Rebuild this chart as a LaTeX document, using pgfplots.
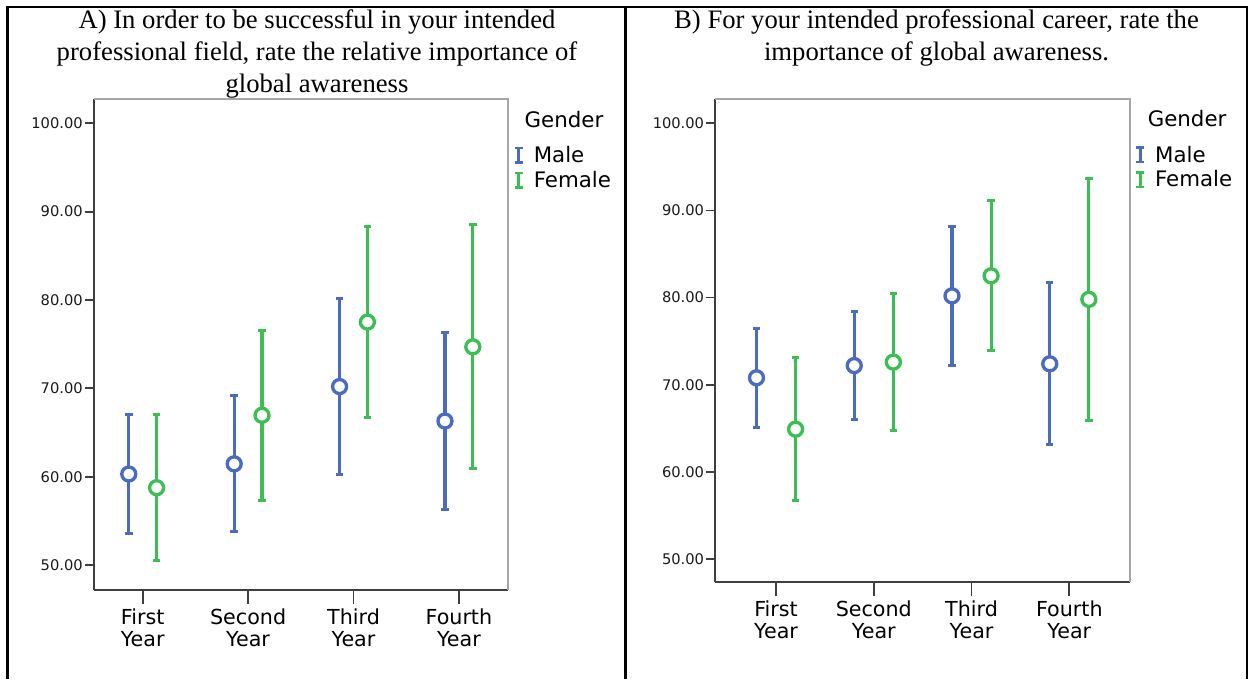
\documentclass[border=0pt]{standalone}
\usepackage{fontspec}
\setmainfont{Liberation Serif}
\newfontfamily\spss{DejaVu Sans}
\usepackage{pgfplots}
\pgfplotsset{compat=1.18}
\definecolor{spBlue}{HTML}{4A6BBE}
\definecolor{spGreen}{HTML}{3DBE55}
\definecolor{axInk}{HTML}{3F3F3F}
\definecolor{frameGray}{HTML}{A6A6A6}

\pgfplotsset{
  spssbase/.style={
    scale only axis, clip=false,
    axis lines=left,
    axis line style={-, axInk, line width=1.5pt},
    tick align=outside,
    tick style={axInk, line width=1.3pt},
    major tick length=6.75pt,
    xtick={0,1,2,3},
    xticklabels={{First\\Year},{Second\\Year},{Third\\Year},{Fourth\\Year}},
    xticklabel style={align=center, font=\spss\fontsize{15.5}{16.5}\selectfont, text=black, inner sep=1pt, yshift=-6pt},
    xtick style={postaction={draw, transform canvas={yshift=-3.75pt}}},
    ytick={50,60,70,80,90,100},
    yticklabel style={font=\spss\fontsize{11}{13}\selectfont, text=black!90, inner sep=1.5pt},
    /pgf/number format/fixed, /pgf/number format/fixed zerofill,
    /pgf/number format/precision=2, /pgf/number format/assume math mode=true,
    legend style={anchor=north west, draw=none, fill=none, inner sep=0pt,
      font=\spss\fontsize{16}{18}\selectfont, row sep=1pt},
    legend cell align=left,
  },
  ibar/.style={
    only marks, mark=*, mark size=5.25pt, color=#1,
    mark options={fill=white, draw=#1, line width=2.5pt},
    legend image code/.code={
      \path (-2.8pt,0pt) (9pt,0pt);
      \draw[#1, line width=2.2pt] (0pt,-5.5pt) -- (0pt,5.5pt);
      \draw[#1, line width=1.8pt] (-2.8pt,-5.5pt) -- (2.8pt,-5.5pt) (-2.8pt,5.5pt) -- (2.8pt,5.5pt);},
    error bars/y dir=both, error bars/y explicit,
    error bars/error bar style={#1, line width=2.4pt},
    error bars/error mark options={#1, line width=2.2pt, mark size=2.8pt, rotate=90},
  },
}

\begin{document}
\begin{tikzpicture}
\useasboundingbox (0,0) rectangle (937.5pt,-509.25pt);

% frame of the two-cell table
\draw[black, line width=1.9pt] (5.5pt,-509.25pt) -- (5.5pt,-5.25pt) -- (935.25pt,-5.25pt) -- (935.25pt,-509.25pt);
\draw[black, line width=1.9pt] (469.3pt,-5.25pt) -- (469.3pt,-509.25pt);

% titles
\node[anchor=base, font=\fontsize{20}{24}\selectfont] at (237.75pt,-21.5pt) {A) In order to be successful in your intended};
\node[anchor=base, font=\fontsize{20}{24}\selectfont] at (237.75pt,-45.5pt) {professional field, rate the relative importance of};
\node[anchor=base, font=\fontsize{20}{24}\selectfont] at (237.75pt,-69.5pt) {global awareness};
\node[anchor=base, font=\fontsize{20}{24}\selectfont] at (702.4pt,-21.5pt) {B) For your intended professional career, rate the};
\node[anchor=base, font=\fontsize{20}{24}\selectfont] at (702.4pt,-45.5pt) {importance of global awareness.};

% panel A
\begin{axis}[spssbase,
  at={(70.5pt,-442.5pt)}, anchor=south west,
  width=310.5pt, height=368.25pt,
  xmin=-0.462, xmax=3.466, ymin=47.17, ymax=102.75,
  legend style={at={(1.0137,0.910)}},
]
\addplot[ibar=spBlue] coordinates {
  (-0.132,60.30) +- (0,6.70)
  (0.868,61.45) +- (0,7.70)
  (1.868,70.20) +- (0,10.00)
  (2.868,66.30) +- (0,10.00)};
\addlegendentry{Male}
\addplot[ibar=spGreen] coordinates {
  (0.132,58.75) +- (0,8.27)
  (1.132,66.95) +- (0,9.60)
  (2.132,77.50) +- (0,10.80)
  (3.132,74.70) +- (0,13.80)};
\addlegendentry{Female}
\draw[frameGray, line width=1pt] (rel axis cs:0,1) -- (rel axis cs:1,1) -- (rel axis cs:1,0);
\end{axis}
\node[anchor=base west, font=\spss\fontsize{16}{18}\selectfont] at (390pt,-95.6pt) {Gender};

% panel B
\begin{axis}[spssbase,
  at={(536.5pt,-436.7pt)}, anchor=south west,
  width=311pt, height=362.5pt,
  xmin=-0.621, xmax=3.621, ymin=47.33, ymax=102.8,
  legend style={at={(1.012,0.909)}},
]
\addplot[ibar=spBlue] coordinates {
  (-0.2,70.80) +- (0,5.70)
  (0.8,72.20) +- (0,6.20)
  (1.8,80.20) +- (0,8.00)
  (2.8,72.40) +- (0,9.30)};
\addlegendentry{Male}
\addplot[ibar=spGreen] coordinates {
  (0.2,64.90) +- (0,8.20)
  (1.2,72.60) +- (0,7.90)
  (2.2,82.50) +- (0,8.60)
  (3.2,79.80) +- (0,13.90)};
\addlegendentry{Female}
\draw[frameGray, line width=1pt] (rel axis cs:0,1) -- (rel axis cs:1,1) -- (rel axis cs:1,0);
\end{axis}
\node[anchor=base west, font=\spss\fontsize{16}{18}\selectfont] at (857.3pt,-95pt) {Gender};
\end{tikzpicture}
\end{document}
